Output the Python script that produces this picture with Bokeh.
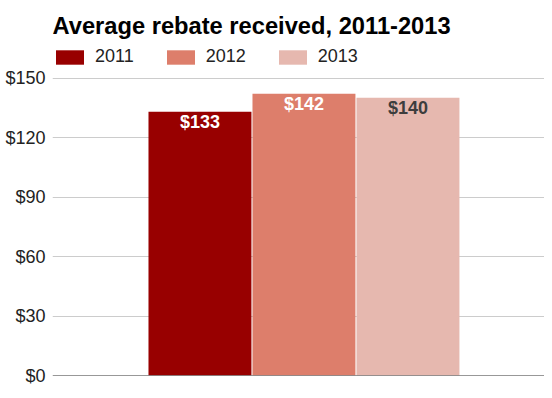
from bokeh.plotting import figure
from bokeh.models import (Range1d, Label, Legend, LegendItem, Span, FixedTicker,
                          NumeralTickFormatter, ColumnDataSource)
from bokeh.core.properties import value
from bokeh.embed import file_html
from bokeh.resources import INLINE

# ---- data ----
chart_title = "Average rebate received, 2011-2013"
years = ["2011", "2012", "2013"]
rebates = [133, 142, 140]
bar_colors = ["#980000", "#dd7e6b", "#e6b8af"]
label_colors = ["#ffffff", "#ffffff", "#3d3d3d"]
y_ticks = [0, 30, 60, 90, 120, 150]

FONT = "Liberation Sans"

# frame spans the full height above the baseline so that title and legend
# (drawn in screen units) are not clipped; ticks/grid stop at $150
p = figure(width=544, height=390, output_backend="svg", toolbar_location=None,
           title=None,
           x_range=Range1d(-1.418, 3.313), y_range=Range1d(0, 189.08),
           min_border_left=52, min_border_right=0, min_border_top=0,
           min_border_bottom=15)
p.outline_line_color = None
p.background_fill_color = "white"
p.border_fill_color = "white"

xs = list(range(len(years)))
items = []
for i, yr in enumerate(years):
    src = ColumnDataSource(dict(x=[xs[i]], top=[rebates[i]]))
    r = p.vbar(x="x", top="top", width=0.99, bottom=0, source=src,
               fill_color=bar_colors[i], line_color=None)
    items.append(LegendItem(label=yr, renderers=[r]))

lab_src = ColumnDataSource(dict(x=xs, y=rebates,
                                text=[f"${v}" for v in rebates],
                                color=label_colors))
p.text(x="x", y="y", text="text", source=lab_src, text_align="center",
       text_baseline="top", y_offset=0, text_font=value(FONT),
       text_font_size="18px", text_font_style="bold", text_color="color")

p.add_layout(Span(location=0, dimension="width", line_color="#333333", line_width=1))

# axes
p.xaxis.visible = False
p.xgrid.visible = False
p.yaxis.ticker = FixedTicker(ticks=y_ticks)
p.ygrid.ticker = FixedTicker(ticks=y_ticks)
p.ygrid.grid_line_color = "#cccccc"
p.yaxis.formatter = NumeralTickFormatter(format="$0")
p.yaxis.axis_line_color = None
p.yaxis.major_tick_line_color = None
p.yaxis.minor_tick_line_color = None
p.yaxis.major_tick_out = 0
p.yaxis.major_tick_in = 0
p.yaxis.major_label_standoff = 7
p.yaxis.major_label_text_font = FONT
p.yaxis.major_label_text_font_size = "18px"
p.yaxis.major_label_text_color = "#222222"

# title
p.add_layout(Label(x=0, y=349.5, x_units="screen", y_units="screen",
                   text=chart_title, text_font=FONT, text_font_size="23.7px",
                   text_font_style="bold", text_color="#000000",
                   text_baseline="alphabetic"))

legend = Legend(items=items, orientation="horizontal", location=(0, 308),
                padding=0, margin=0, spacing=29, glyph_width=35, glyph_height=18,
                label_standoff=8, label_text_font=FONT, label_text_font_size="18px",
                label_text_color="#222222", border_line_color=None,
                background_fill_alpha=0)
p.add_layout(legend)

open("out.html", "w").write(file_html(p, INLINE))
